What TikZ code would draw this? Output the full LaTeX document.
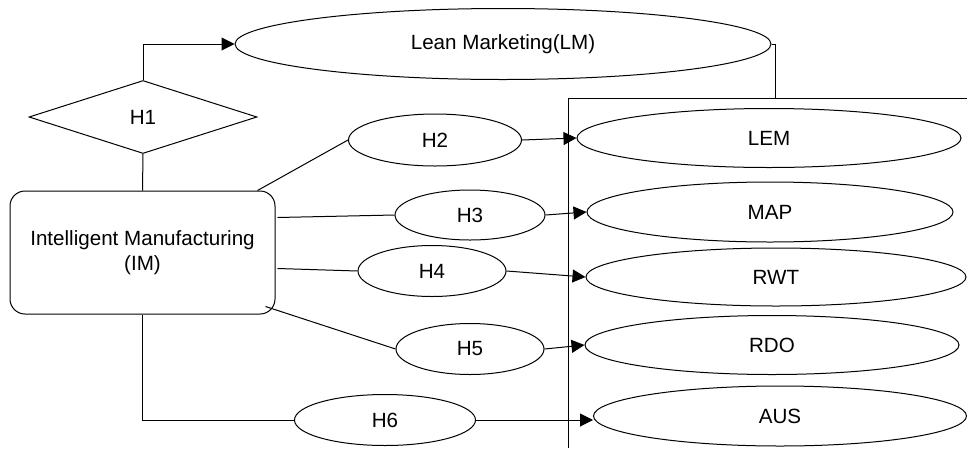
\documentclass[tikz,border=0pt]{standalone}
\usepackage{fontspec}
\setmainfont{Liberation Sans}
\usetikzlibrary{shapes.geometric,arrows.meta,calc}
\tikzset{
  every node/.style={font=\fontsize{20.6}{25}\selectfont, inner sep=0pt, align=center},
  oval/.style={draw, ellipse, line width=1pt},
  link/.style={draw, line width=1pt},
  arr/.style={link, -{Triangle[length=13pt,width=13pt]}},
}
\begin{document}
\begin{tikzpicture}[x=1pt,y=-1pt]
\useasboundingbox (0,0) rectangle (967,448);
% nodes
\node[oval, minimum width=536pt, minimum height=71pt] (lm) at (503,44) {Lean Marketing(LM)};
\node[draw, diamond, line width=1pt, aspect=3.12, minimum width=228pt, minimum height=73pt] (h1) at (143,117) {H1};
\node[draw, rectangle, rounded corners=15pt, line width=1pt, minimum width=265pt, minimum height=123pt] (im) at (142.5,252.5) {Intelligent Manufacturing\\(IM)};
\node[oval, minimum width=173pt, minimum height=52pt] (h2) at (435,140) {H2};
\node[oval, minimum width=150pt, minimum height=50pt] (h3) at (470,215) {H3};
\node[oval, minimum width=148pt, minimum height=51pt] (h4) at (432,271) {H4};
\node[oval, minimum width=148pt, minimum height=51pt] (h5) at (470,349) {H5};
\node[oval, minimum width=181pt, minimum height=51pt] (h6) at (385,420) {H6};
\node[oval, minimum width=384pt, minimum height=59pt] (lem) at (769,138) {LEM};
\node[oval, minimum width=366pt, minimum height=60pt] (map) at (770,212) {MAP};
\node[oval, minimum width=380pt, minimum height=58pt] (rwt) at (776,277) {RWT};
\node[oval, minimum width=374pt, minimum height=59pt] (rdo) at (772,345) {RDO};
\node[oval, minimum width=373pt, minimum height=60pt] (aus) at (780,416) {AUS};
% group box (partly outside the picture)
\coordinate (boxtl) at (568,98);
\coordinate (boxbl) at (568,448);
\coordinate (boxtr) at (967,98);
\coordinate (boxtop) at (775,98);
\draw[link] (boxbl) -- (boxtl) -- (boxtr);
% connectors
\draw[arr] (h1.north) |- (lm.west);
\draw[link] (h1.south) -- (im.north);
\draw[link] (lm.east) -| (boxtop);
\draw[link] ($(im.north east)+(-18,0)$) -- (h2.west);
\draw[link] ($(im.east)+(2,-35)$) -- (h3.west);
\draw[link] ($(im.east)+(2,16)$) -- (h4.west);
\draw[link] ($(im.south east)+(-10,-8)$) -- (h5.west);
\draw[link] (im.south) |- (h6.west);
\draw[arr] (h2.east) -- (lem.west);
\draw[arr] (h3.east) -- (map.west);
\draw[arr] (h4.east) -- (rwt.west);
\draw[arr] (h5.east) -- (rdo.west);
\draw[arr] (h6.east) -- (h6.east -| aus.west);
\end{tikzpicture}
\end{document}
